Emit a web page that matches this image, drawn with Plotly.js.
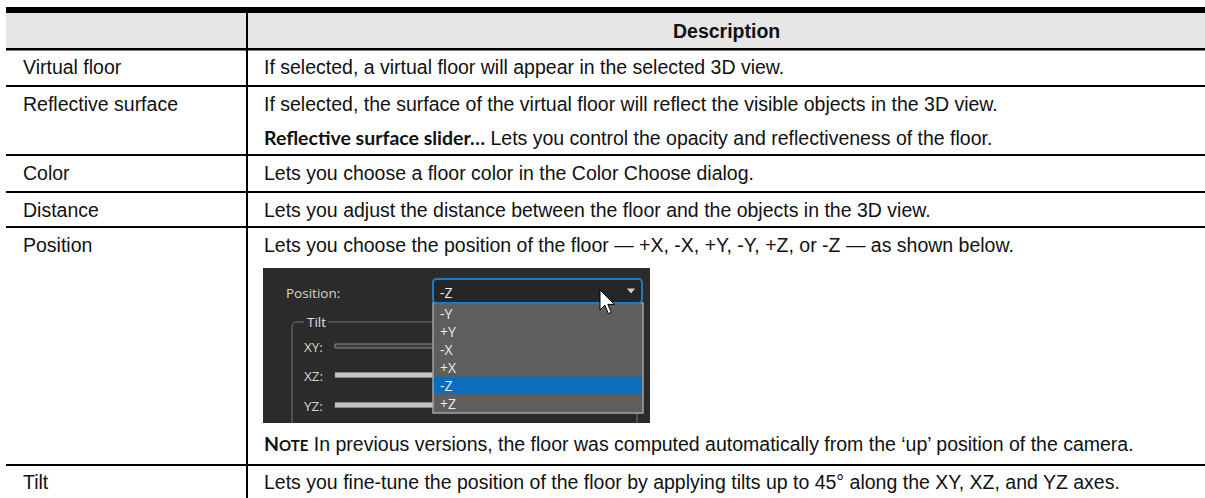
<!DOCTYPE html>
<html>
<head>
<meta charset="utf-8">
<script src="https://cdn.plot.ly/plotly-3.0.1.min.js"></script>
<style>
html,body{margin:0;padding:0;background:#fff;}
#chart{width:1205px;height:498px;}
</style>
</head>
<body>
<div id="chart"></div>
<script>
// ---------- table content ----------
const headerLabels = ["", "Description"];
const rowLabels = ["Virtual floor", "Reflective surface", "Color", "Distance", "Position", "Tilt"];
const rowDescriptions = [
  ["If selected, a virtual floor will appear in the selected 3D view."],
  ["If selected, the surface of the virtual floor will reflect the visible objects in the 3D view.",
   "<span style=\"font-family:Lato\"><b>Reflective surface slider…</b></span> Lets you control the opacity and reflectiveness of the floor."],
  ["Lets you choose a floor color in the Color Choose dialog."],
  ["Lets you adjust the distance between the floor and the objects in the 3D view."],
  ["Lets you choose the position of the floor — +X, -X, +Y, -Y, +Z, or -Z — as shown below.",
   "<span style=\"font-family:Lato\"><b>N<span style=\"font-size:15px\">OTE</span></b></span> In previous versions, the floor was computed automatically from the ‘up’ position of the camera."],
  ["Lets you fine-tune the position of the floor by applying tilts up to 45° along the XY, XZ, and YZ axes."]
];
// screenshot (embedded dialog) content
const dialogPositionLabel = "Position:";
const dialogSelected = "-Z";
const dialogOptions = ["-Y", "+Y", "-X", "+X", "-Z", "+Z"];
const dialogGroupLabel = "Tilt";
const dialogSliders = ["XY:", "XZ:", "YZ:"];

// ---------- layout geometry (pixels) ----------
const W = 1205, H = 498;
const tableLeft = 6, colSplit = 247;
const topRuleTop = 7, headerTop = 13, headerBottom = 49;
const rowBottoms = [86, 155, 192, 227, 465, 502];
const lineYs = [[67], [104, 137], [173], [210], [245, 443], [482]];
const leftTextX = 22, rightTextX = 263;
const FS = 19.5, TEXT = "#111111", FONT = "Liberation Sans, Arial, sans-serif";

const shapes = [];
const annotations = [];
function rect(x0, y0, x1, y1, fill, line) {
  shapes.push({type: "rect", xref: "x", yref: "y", x0, y0, x1, y1, fillcolor: fill,
    line: line || {width: 0}, layer: "above"});
}
function path(p, fill, line) {
  shapes.push({type: "path", xref: "x", yref: "y", path: p, fillcolor: fill || "rgba(0,0,0,0)",
    line: line || {width: 0}, layer: "above"});
}
function text(x, y, t, opts) {
  opts = opts || {};
  annotations.push({xref: "x", yref: "y", x, y, text: t, showarrow: false,
    xanchor: opts.xanchor || "left", yanchor: "middle", borderpad: 0,
    font: {family: opts.family || FONT, size: opts.size || FS, color: opts.color || TEXT}});
}

// header background and rules
rect(tableLeft, headerTop, W, headerBottom - 1, "#e6e6e6");
rect(tableLeft, topRuleTop, W, headerTop, "#000000");
rect(tableLeft, headerBottom - 1, W, headerBottom + 1.5, "#000000");
rowBottoms.forEach(function (b) {
  if (b < H) rect(tableLeft, b - 1, W, b + 1, "#000000");
});
rect(colSplit - 1, topRuleTop, colSplit + 1, H, "#000000");

// header text
text((colSplit + W) / 2, (headerTop + headerBottom) / 2, "<b>" + headerLabels[1] + "</b>", {xanchor: "center"});

// rows
rowLabels.forEach(function (lab, i) {
  text(leftTextX, lineYs[i][0], lab);
  rowDescriptions[i].forEach(function (d, j) {
    text(rightTextX, lineYs[i][j], d);
  });
});

// ---------- embedded dialog screenshot ----------
const sx0 = 263, sy0 = 268, sx1 = 650, sy1 = 423;
const UIF = "Open Sans, DejaVu Sans, sans-serif";
rect(sx0, sy0, sx1, sy1, "#2b2b2b");
text(285, 293, dialogPositionLabel, {family: UIF, size: 13.5, color: "#d9d5c7"});
// tilt group box
path("M 304 322 L 297 322 Q 292 322 292 327 L 292 " + sy1, null, {color: "#767676", width: 1});
path("M 328 322 L 632 322 Q 637 322 637 327 L 637 " + sy1, null, {color: "#767676", width: 1});
text(306, 322, dialogGroupLabel, {family: UIF, size: 13.5, color: "#e0e0e0"});
// sliders
const sliderYs = [346, 375, 405];
dialogSliders.forEach(function (s, i) {
  text(303, sliderYs[i] + 1, s, {family: UIF, size: 13.5, color: "#d9d5c7"});
  if (i === 0) rect(335, sliderYs[i] - 2, 440, sliderYs[i] + 2, "#3a3a3a", {color: "#8c8c8c", width: 1});
  else rect(335, sliderYs[i] - 2.5, 440, sliderYs[i] + 2.5, "#c4c4c4", {color: "#9a9a9a", width: 0.5});
});
// dropdown list
rect(433, 303, 643, 413, "#5e5e5e", {color: "#a3a3a3", width: 1.5});
const itemTop = 304, itemH = 18;
dialogOptions.forEach(function (o, i) {
  const cy = itemTop + itemH * i + 9;
  if (o === dialogSelected) rect(434, cy - 8.5, 642, cy + 8.5, "#0a6ebd");
  text(439, cy, o, {family: UIF, size: 14, color: "#ececec"});
});
// combo box
path("M 437 279 L 638 279 Q 642 279 642 283 L 642 299 Q 642 303 638 303 L 437 303 Q 433 303 433 299 L 433 283 Q 433 279 437 279 Z",
  "#262626", {color: "#1f7ac2", width: 2});
text(439, 292, dialogSelected, {family: UIF, size: 14, color: "#ececec"});
path("M 627 288.5 L 635 288.5 L 631 293.5 Z", "#cfcfcf");
// mouse cursor
path("M 600 290 L 600 310 L 604.8 305.2 L 608.4 313.6 L 611.4 312.4 L 607.8 304.4 L 614.4 304.4 Z", "#ffffff", {color: "#000000", width: 1});

const layout = {
  width: W, height: H,
  margin: {l: 0, r: 0, t: 0, b: 0, pad: 0},
  paper_bgcolor: "#ffffff", plot_bgcolor: "#ffffff",
  showlegend: false,
  xaxis: {range: [0, W], visible: false, fixedrange: true},
  yaxis: {range: [H, 0], visible: false, fixedrange: true},
  shapes: shapes,
  annotations: annotations
};
Plotly.newPlot("chart", [{x: [], y: [], type: "scatter", mode: "markers", hoverinfo: "skip"}], layout,
  {displayModeBar: false, staticPlot: true});
</script>
</body>
</html>
